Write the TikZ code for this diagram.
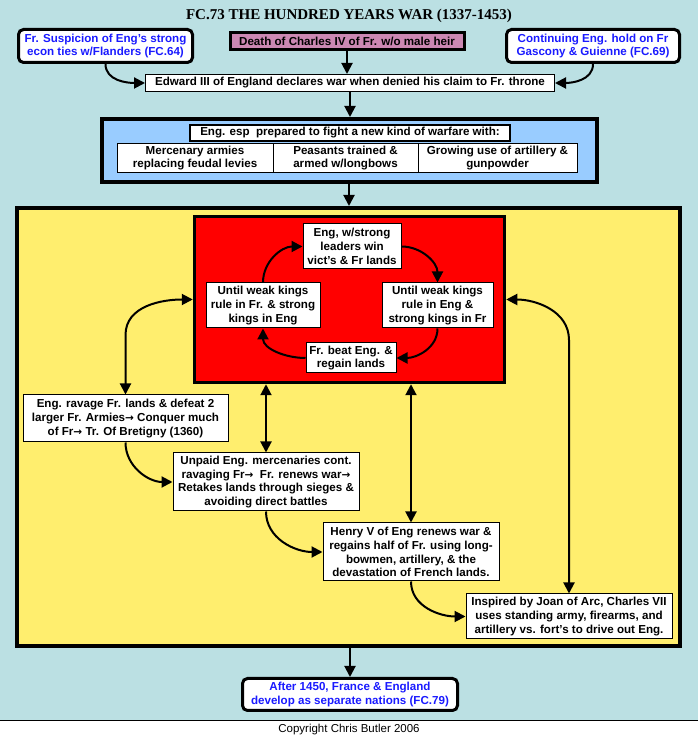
\documentclass[tikz,border=0pt]{standalone}
\usepackage{fontspec}
\setmainfont{Liberation Sans}
\newfontfamily\titlefont{Liberation Serif}
\newfontfamily\arrfont{DejaVu Sans}
\usetikzlibrary{arrows.meta}
\definecolor{bgblue}{HTML}{BBE0E3}
\definecolor{pinkbox}{HTML}{CC88B3}
\definecolor{lightblue}{HTML}{99CCFF}
\definecolor{yellowbox}{HTML}{FFEE6E}
\definecolor{redbox}{HTML}{FF0000}
\definecolor{linkblue}{HTML}{1A1AFF}
\newcommand{\rarr}{{\arrfont\bfseries\fontsize{10.5}{12}\selectfont→}}
\tikzset{
  txt/.style={font=\bfseries\fontsize{11.6}{13.8}\selectfont, align=center, inner sep=0pt},
  wbox/.style={txt, draw=black, fill=white, line width=1pt},
  refbox/.style={txt, draw=black, fill=white, line width=3pt, rounded corners=5pt, text=linkblue},
  arr/.style={line width=2pt, -{Triangle[length=11pt,width=11pt]}},
  dbl/.style={line width=2pt, {Triangle[length=11pt,width=11pt]}-{Triangle[length=11pt,width=11pt]}}
}
\begin{document}
\begin{tikzpicture}[x=1pt,y=1pt]
\useasboundingbox (0,0) rectangle (698,738);
\fill[white] (0,0) rectangle (698,738);
\fill[bgblue] (0,17) rectangle (698,738);
\draw[line width=1pt] (0,17) -- (698,17);

\node[font=\titlefont\bfseries\fontsize{15}{18}\selectfont] (title) at (349,722.5) {FC.73 THE HUNDRED YEARS WAR (1337-1453)};

\node[refbox, minimum width=174, minimum height=33] (tl) at (105.5,692) {Fr. Suspicion of Eng's strong\\econ ties w/Flanders (FC.64)};
\node[txt, draw=black, fill=pinkbox, line width=3pt, minimum width=234, minimum height=17] (death) at (347,697) {Death of Charles IV of Fr. w/o male heir};
\node[refbox, minimum width=173, minimum height=33] (tr) at (593,692) {Continuing Eng. hold on Fr\\Gascony \& Guienne (FC.69)};
\node[wbox, minimum width=409, minimum height=17] (edward) at (350,655) {Edward III of England declares war when denied his claim to Fr. throne};

\node[draw=black, fill=lightblue, line width=4pt, minimum width=495, minimum height=63, inner sep=0pt] (blue) at (349,587.5) {};
\node[txt, draw=black, fill=white, line width=2.5pt, minimum width=320, minimum height=16] (head) at (350,605) {Eng. esp\ \ prepared to fight a new kind of warfare with:};
\node[wbox, minimum width=156, minimum height=29] (c1) at (195,580) {Mercenary armies\\replacing feudal levies};
\node[wbox, minimum width=145, minimum height=29] (c2) at (345.5,580) {Peasants trained \&\\armed w/longbows};
\node[wbox, minimum width=159, minimum height=29] (c3) at (497.5,580) {Growing use of artillery \&\\gunpowder};

\node[draw=black, fill=yellowbox, line width=4pt, minimum width=663, minimum height=438, inner sep=0pt] (yellow) at (348.5,311) {};
\node[draw=black, fill=redbox, line width=3.5pt, minimum width=310, minimum height=166, inner sep=0pt] (red) at (349.5,438.5) {};

\node[wbox, minimum width=98, minimum height=45] (t) at (352,491.5) {Eng, w/strong\\leaders win\\vict's \& Fr lands};
\node[wbox, minimum width=114, minimum height=45] (l) at (263,432.5) {Until weak kings\\rule in Fr. \& strong\\kings in Eng};
\node[wbox, minimum width=111, minimum height=45] (r) at (437.5,432.5) {Until weak kings\\rule in Eng \&\\strong kings in Fr};
\node[wbox, minimum width=90, minimum height=30] (b) at (351,380) {Fr. beat Eng. \&\\regain lands};

\node[wbox, minimum width=205, minimum height=47] (e1) at (125.5,319.5) {Eng. ravage Fr. lands \& defeat 2\\larger Fr. Armies\rarr{} Conquer much\\of Fr\rarr{} Tr. Of Bretigny (1360)};
\node[wbox, minimum width=186, minimum height=58] (unpaid) at (266,256) {Unpaid Eng. mercenaries cont.\\ravaging Fr\rarr\ \ Fr. renews war\rarr\\Retakes lands through sieges \&\\avoiding direct battles};
\node[wbox, minimum width=176, minimum height=58] (henry) at (411,186) {Henry V of Eng renews war \&\\regains half of Fr. using long-\\bowmen, artillery, \& the\\devastation of French lands.};
\node[wbox, minimum width=206, minimum height=45] (insp) at (569,121.5) {Inspired by Joan of Arc, Charles VII\\uses standing army, firearms, and\\artillery vs. fort's to drive out Eng.};

\node[refbox, minimum width=215, minimum height=32] (final) at (350,43.5) {After 1450, France \& England\\develop as separate nations (FC.79)};
\node[font=\fontsize{11.5}{13}\selectfont, inner sep=0pt] (copy) at (349,8.5) {Copyright Chris Butler 2006};

\coordinate (lbend) at (125.5,403);
\coordinate (rbend) at (569,398);

% top connectors
\draw[arr] (tl.south) to[out=-90,in=180] (edward.west);
\draw[arr] (tr.south) to[out=-90,in=0] (edward.east);
\draw[arr] (death.south) -- (death.south |- edward.north);
\draw[arr] (edward.south) -- (edward.south |- blue.north);
\draw[arr] (blue.south) -- (blue.south |- yellow.north);
\draw[arr] (final.north |- yellow.south) -- (final.north);

% cycle
\draw[arr] (t.east) to[out=0,in=90] (r.north);
\draw[arr] (r.south) to[out=-90,in=0] (b.east);
\draw[arr] (b.west) to[out=180,in=-90] (l.south);
\draw[arr] (l.north) to[out=90,in=180] (t.west);

% side links
\draw[dbl] (red.west) to[out=180,in=90] (lbend) -- (e1.north);
\draw[dbl] (red.east) to[out=0,in=90] (rbend) -- (insp.north);
\draw[dbl] (unpaid.north |- red.south) -- (unpaid.north);
\draw[dbl] (henry.north |- red.south) -- (henry.north);

% sequence
\draw[arr] (e1.south) to[out=-90,in=180] (unpaid.west);
\draw[arr] (unpaid.south) to[out=-90,in=180] (henry.west);
\draw[arr] (henry.south) to[out=-90,in=180] (insp.west);
\end{tikzpicture}
\end{document}
